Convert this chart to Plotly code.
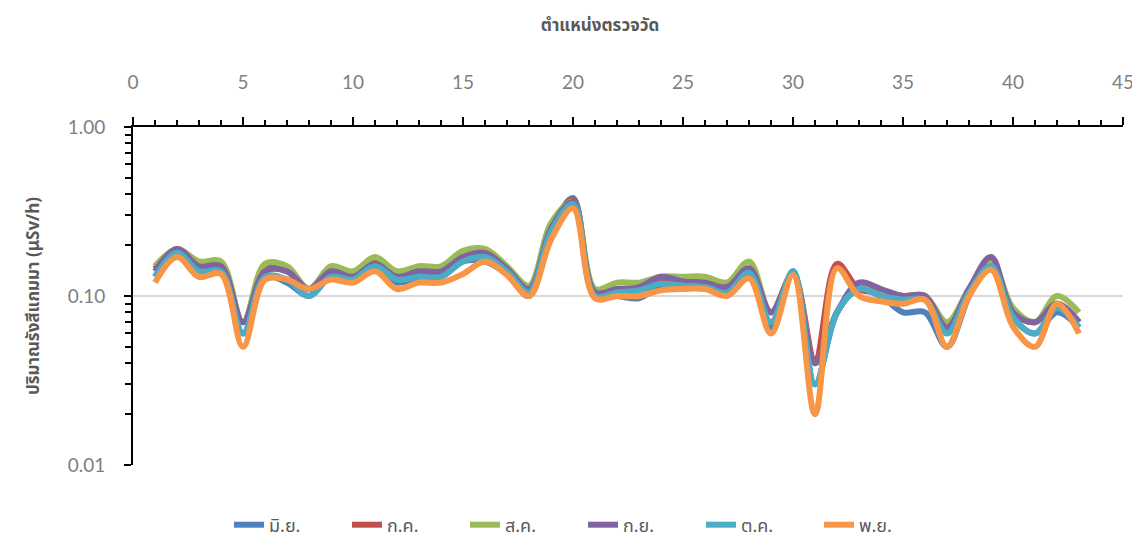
import plotly.graph_objects as go

positions = list(range(1, 44))
series_names = ["มิ.ย.", "ก.ค.", "ส.ค.", "ก.ย.", "ต.ค.", "พ.ย."]
colors = ["#4F81BD", "#C0504D", "#9BBB59", "#8064A2", "#4BACC6", "#F79646"]

jun = [0.13, 0.18, 0.13, 0.14, 0.06, 0.13, 0.12, 0.10, 0.13, 0.125, 0.15, 0.12, 0.13, 0.13, 0.16,
       0.16, 0.135, 0.10, 0.24, 0.38, 0.10, 0.10, 0.097, 0.115, 0.115, 0.115, 0.105, 0.135, 0.065, 0.14,
       0.03, 0.08, 0.11, 0.10, 0.08, 0.08, 0.05, 0.10, 0.16, 0.075, 0.06, 0.08, 0.065]
jul = [0.145, 0.19, 0.15, 0.15, 0.07, 0.145, 0.14, 0.11, 0.14, 0.13, 0.16, 0.135, 0.14, 0.14, 0.17,
       0.18, 0.14, 0.11, 0.25, 0.37, 0.105, 0.11, 0.11, 0.125, 0.12, 0.12, 0.11, 0.145, 0.08, 0.135,
       0.042, 0.155, 0.11, 0.105, 0.10, 0.10, 0.065, 0.11, 0.165, 0.08, 0.07, 0.09, 0.07]
aug = [0.15, 0.19, 0.16, 0.16, 0.07, 0.155, 0.15, 0.11, 0.15, 0.14, 0.17, 0.14, 0.15, 0.15, 0.185,
       0.19, 0.15, 0.115, 0.27, 0.36, 0.11, 0.12, 0.12, 0.13, 0.13, 0.13, 0.12, 0.16, 0.08, 0.135,
       0.04, 0.08, 0.115, 0.105, 0.10, 0.10, 0.07, 0.11, 0.16, 0.085, 0.07, 0.10, 0.08]
sep = [0.14, 0.19, 0.15, 0.15, 0.07, 0.14, 0.14, 0.11, 0.14, 0.13, 0.155, 0.13, 0.14, 0.14, 0.17,
       0.18, 0.145, 0.11, 0.25, 0.36, 0.105, 0.11, 0.113, 0.13, 0.122, 0.12, 0.113, 0.146, 0.08, 0.135,
       0.04, 0.08, 0.12, 0.11, 0.10, 0.10, 0.065, 0.11, 0.17, 0.08, 0.07, 0.09, 0.07]
oct_ = [0.13, 0.18, 0.14, 0.14, 0.06, 0.13, 0.125, 0.10, 0.13, 0.125, 0.15, 0.125, 0.13, 0.13, 0.16,
        0.17, 0.14, 0.105, 0.24, 0.35, 0.10, 0.105, 0.108, 0.118, 0.115, 0.113, 0.105, 0.137, 0.07, 0.14,
        0.03, 0.08, 0.11, 0.10, 0.095, 0.095, 0.06, 0.105, 0.15, 0.075, 0.06, 0.085, 0.065]
nov = [0.12, 0.17, 0.13, 0.135, 0.05, 0.125, 0.125, 0.11, 0.125, 0.12, 0.14, 0.11, 0.12, 0.12, 0.135,
       0.16, 0.133, 0.10, 0.215, 0.33, 0.097, 0.10, 0.10, 0.108, 0.11, 0.11, 0.10, 0.127, 0.06, 0.133,
       0.02, 0.146, 0.10, 0.093, 0.09, 0.095, 0.05, 0.10, 0.143, 0.066, 0.05, 0.09, 0.06]

all_series = [jun, jul, aug, sep, oct_, nov]

x_title = "ตำแหน่งตรวจวัด"
y_title = "ปริมาณรังสีแกมมา (<b>μ</b>Sv/h)"
y_tickvals = [0.01, 0.1, 1.0]
y_ticktext = ["0.01", "0.10", "1.00"]
y_minor = [0.02, 0.03, 0.04, 0.05, 0.06, 0.07, 0.08, 0.09,
           0.2, 0.3, 0.4, 0.5, 0.6, 0.7, 0.8, 0.9]

FONT = "Noto Sans Thai, Noto Sans, Tahoma, sans-serif"
NUMFONT = "Lato, Noto Sans, sans-serif"
GRAY = "#595959"

W, H = 1132, 531  # page body adds an 8px offset

fig = go.Figure()
for name, vals, col in zip(series_names, all_series, colors):
    fig.add_trace(go.Scatter(
        x=positions, y=vals, name=name, mode="lines",
        line=dict(color=col, width=6, shape="spline", smoothing=1.0),
    ))

fig.update_layout(
    width=W, height=H,
    margin=dict(l=125, r=17, t=119, b=74, autoexpand=False),
    paper_bgcolor="white", plot_bgcolor="white",
    font=dict(family=FONT, color=GRAY, size=16),
    title=dict(text="<b>" + x_title + "</b>", x=592 / W, xref="container", xanchor="center",
               y=1 - 17 / H, yref="container", yanchor="middle", pad=dict(t=0, b=0),
               font=dict(size=17, color=GRAY, family=FONT)),
    showlegend=True,
    legend=dict(orientation="h", x=575 / W, xanchor="center", xref="container",
                y=-60 / 338, yanchor="middle", yref="paper",
                font=dict(size=18, color=GRAY), entrywidth=73, entrywidthmode="pixels",
                bgcolor="rgba(0,0,0,0)"),
    xaxis=dict(
        range=[0, 45], side="top", dtick=5, tick0=0, automargin=False,
        showline=True, linecolor="black", linewidth=2,
        ticks="outside", ticklen=8, tickwidth=2, tickcolor="black",
        minor=dict(dtick=1, ticks="outside", ticklen=5, tickwidth=2, tickcolor="black"),
        showgrid=False, zeroline=False, ticklabelstandoff=20,
        tickfont=dict(size=19, color="#7f7f7f", family=NUMFONT),
    ),
    yaxis=dict(
        type="log", range=[-2, 0], automargin=False,
        tickmode="array", tickvals=y_tickvals, ticktext=y_ticktext,
        showline=True, linecolor="black", linewidth=2,
        ticks="outside", ticklen=7, tickwidth=2, tickcolor="black",
        minor=dict(tickmode="array", tickvals=y_minor, ticks="outside", ticklen=6, tickwidth=2,
                   tickcolor="black", showgrid=False),
        showgrid=True, gridcolor="#d9d9d9", gridwidth=2,
        zeroline=False, ticklabelstandoff=15,
        tickfont=dict(size=19, color="#7f7f7f", family=NUMFONT),
        title=dict(text="<b>" + y_title + "</b>", standoff=24,
                   font=dict(size=17, color=GRAY)),
    ),
)

fig.write_html("out.html")
